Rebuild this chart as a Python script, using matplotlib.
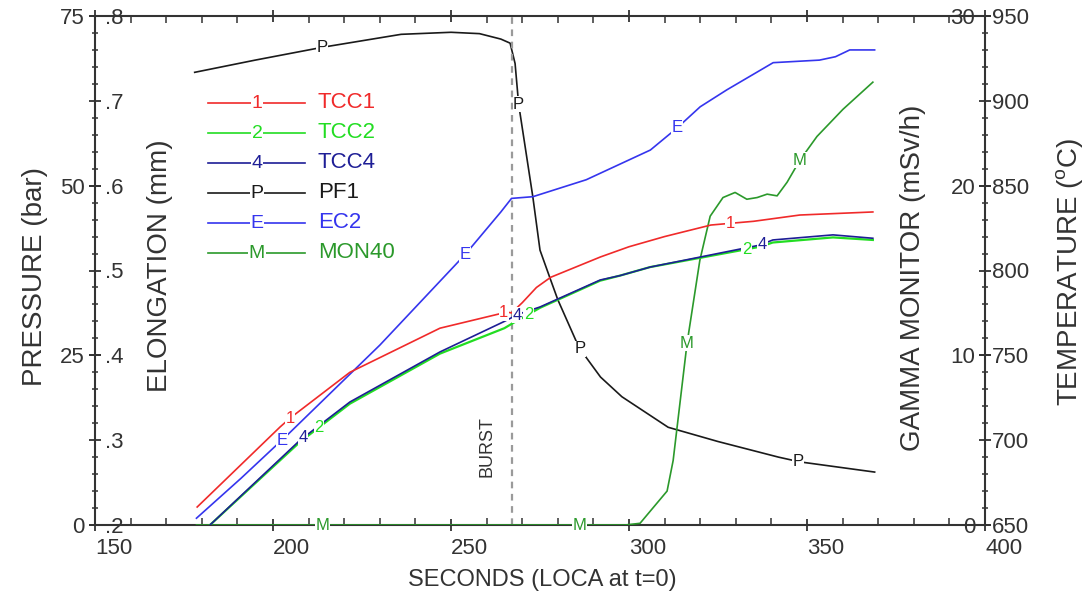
import matplotlib
matplotlib.use("Agg")
import matplotlib.pyplot as plt
import numpy as np
from matplotlib.ticker import MultipleLocator

plt.rcParams['font.family'] = ['Liberation Sans', 'DejaVu Sans']
plt.rcParams['mathtext.fontset'] = 'custom'
plt.rcParams['mathtext.rm'] = 'Liberation Sans'

# ---- data ----
burst_t = 267.0

t_pf1 = [178, 195, 214, 236, 250, 258, 264, 266.6, 268, 269, 273, 275, 278,
         280, 286, 292, 298, 311, 325, 342, 348, 369]
pf1 = [66.7, 68.5, 70.4, 72.3, 72.6, 72.4, 71.6, 71.0, 68.0, 62.0, 48.3, 40.5,
       36.1, 33.2, 26.1, 21.8, 18.9, 14.4, 12.3, 10.0, 9.3, 7.8]

t_ec2 = [178.5, 191, 204.5, 230, 254, 264, 267, 273, 288, 306, 313.5, 320,
         327.5, 340.5, 353.5, 358, 362, 369]
ec2 = [0.208, 0.255, 0.308, 0.412, 0.519, 0.569, 0.585, 0.587, 0.607, 0.642,
       0.668, 0.693, 0.713, 0.745, 0.748, 0.752, 0.760, 0.760]

t_tcc1 = [178.7, 202, 204.8, 221.6, 246.9, 265.7, 267, 270, 274, 278, 285,
          292, 300, 310, 323, 335, 348, 368.5]
tcc1 = [660.6, 707.8, 713, 740, 766, 775.5, 775, 781, 790, 796, 802, 808,
        814, 820, 826.8, 829, 832.7, 834.5]

t_tcc = [178.5, 182.3, 207.6, 221.6, 246.9, 265, 267.4, 270, 275, 291.9,
         297.5, 305.9, 336.8, 340.4, 357.3, 368.5]
tcc2 = [643, 650, 699, 721.5, 751, 766, 769, 772, 778, 794, 797, 802, 814,
        816.5, 819.5, 818]
tcc4 = [643, 650, 700, 722.5, 752, 770, 772.6, 775, 778.5, 794.4, 797, 802,
        815, 818, 821, 819]

t_mon = [178.5, 298.9, 303.1, 306.7, 310.7, 312.4, 316.3, 319.9, 322.8, 326.4,
         329.8, 333.1, 336.0, 338.8, 341.6, 344.4, 348.0, 352.8, 360.1, 368.5]
mon40 = [0, 0, 0.1, 1.0, 2.0, 3.8, 10.7, 15.6, 18.2, 19.3, 19.6, 19.2, 19.3,
         19.5, 19.4, 20.2, 21.5, 22.9, 24.5, 26.1]

# where the curve-identifying characters sit along each line
mk_tcc1 = [204.8, 264.8, 328.4]
mk_tcc2 = [213.0, 271.8, 333.0]
mk_tcc4 = [208.5, 268.6, 337.5]
mk_pf1 = [213.8, 269.0, 286.2, 347.5]
mk_ec2 = [202.5, 253.9, 313.5]
mk_mon = [214.0, 286.2, 316.3, 348.0]

INK = '#333333'
RED, GRN, NAVY, BLK, BLU, DGRN = '#f02a2a', '#22dd22', '#1e1e96', '#1a1a1a', '#3535ee', '#2b992b'

fig = plt.figure(figsize=(10.91, 6.0), dpi=100)
ax_p = fig.add_axes([95 / 1091, 75 / 600, 890 / 1091, 509 / 600])
ax_e = ax_p.twinx()
ax_g = ax_p.twinx()
ax_t = ax_p.twinx()

for a in (ax_e, ax_g, ax_t):
    for s in a.spines.values():
        s.set_visible(False)
for s in ax_p.spines.values():
    s.set_color(INK)
    s.set_linewidth(1.5)

ax_p.set_xlim(150, 400)
ax_p.set_ylim(0, 75)
ax_e.set_ylim(0.2, 0.8)
ax_g.set_ylim(0, 30)
ax_t.set_ylim(650, 950)

# lines
lw = 1.2
ax_p.plot(t_pf1, pf1, color=BLK, lw=lw)
ax_e.plot(t_ec2, ec2, color=BLU, lw=lw)
ax_g.plot(t_mon, mon40, color=DGRN, lw=lw)
ax_t.plot(t_tcc1, tcc1, color=RED, lw=lw)
ax_t.plot(t_tcc, tcc2, color=GRN, lw=1.6)
ax_t.plot(t_tcc, tcc4, color=NAVY, lw=lw)
ax_p.axvline(burst_t, color='#9a9a9a', lw=1.6, ls=(0, (3, 2.5)))
ax_p.text(burst_t - 6.8, 11.5, 'BURST', rotation=90, ha='center', va='center',
          fontsize=13, color=INK)

# curve characters
box = dict(facecolor='white', edgecolor='none', pad=0.4)
for a, tx, ty, marks, ch, col in (
        (ax_p, t_pf1, pf1, mk_pf1, 'P', BLK),
        (ax_e, t_ec2, ec2, mk_ec2, 'E', BLU),
        (ax_g, t_mon, mon40, mk_mon, 'M', DGRN),
        (ax_t, t_tcc1, tcc1, mk_tcc1, '1', RED),
        (ax_t, t_tcc, tcc2, mk_tcc2, '2', GRN),
        (ax_t, t_tcc, tcc4, mk_tcc4, '4', NAVY)):
    for m in marks:
        a.text(m, np.interp(m, tx, ty), ch, color=col, fontsize=12,
               ha='center', va='center', bbox=box, zorder=5)

# legend drawn by hand: line - char - line, then name
legend = [('1', 'TCC1', RED), ('2', 'TCC2', GRN), ('4', 'TCC4', NAVY),
          ('P', 'PF1', BLK), ('E', 'EC2', BLU), ('M', 'MON40', DGRN)]
for i, (ch, name, col) in enumerate(legend):
    yy = (525 - (103 + 30 * i)) / 509
    x0, xc, x1, xt = [(v - 95) / 890 for v in (208, 257, 305, 318)]
    ax_t.plot([x0, x1], [yy, yy], color=col, lw=lw, transform=ax_t.transAxes)
    ax_t.text(xc, yy, ch, color=col, fontsize=14, ha='center', va='center',
              bbox=box, transform=ax_t.transAxes, zorder=5)
    ax_t.text(xt, yy, name, color=col, fontsize=16, ha='left', va='center',
              transform=ax_t.transAxes)

# ---- ticks ----
ax_p.xaxis.set_major_locator(MultipleLocator(50))
ax_p.xaxis.set_minor_locator(MultipleLocator(10))
ax_p.tick_params(axis='x', which='major', top=True, bottom=True, direction='inout',
                 length=9, width=1.3, color=INK, labelsize=16, labelcolor=INK, pad=4.5)
ax_p.tick_params(axis='x', which='minor', top=True, bottom=True, direction='in',
                 length=5, width=1.1, color=INK)
plt.setp(ax_p.get_xticklabels(), ha='left')

ax_p.set_yticks([0, 25, 50, 75])
ax_p.tick_params(axis='y', which='major', left=True, right=False, direction='inout',
                 length=9, width=1.3, color=INK, labelsize=16, labelcolor=INK, pad=3)

e_ticks = [0.2, 0.3, 0.4, 0.5, 0.6, 0.7, 0.8]
ax_e.yaxis.tick_left()
ax_e.set_yticks(e_ticks)
ax_e.set_yticklabels(['.2', '.3', '.4', '.5', '.6', '.7', '.8'])
ax_e.yaxis.set_minor_locator(MultipleLocator(0.02))
ax_e.tick_params(axis='y', which='major', left=True, right=False, labelleft=True,
                 labelright=False, direction='inout', length=9, width=1.3,
                 color=INK, labelsize=16, labelcolor=INK, pad=-11.5)
ax_e.tick_params(axis='y', which='minor', left=True, right=False, direction='inout',
                 length=5, width=1.1, color=INK)
plt.setp(ax_e.get_yticklabels(), ha='left')

ax_g.set_yticks([0, 10, 20, 30])
ax_g.tick_params(axis='y', which='major', left=False, right=True, labelleft=False,
                 labelright=True, direction='inout', length=9, width=1.3,
                 color=INK, labelsize=16, labelcolor=INK, pad=-11.5)
plt.setp(ax_g.get_yticklabels(), ha='right')

ax_t.set_yticks(np.arange(650, 951, 50))
ax_t.yaxis.set_minor_locator(MultipleLocator(10))
ax_t.tick_params(axis='y', which='major', left=False, right=True, direction='inout',
                 length=9, width=1.3, color=INK, labelsize=16, labelcolor=INK, pad=0.5)
ax_t.tick_params(axis='y', which='minor', left=False, right=True, direction='inout',
                 length=5, width=1.1, color=INK)

# ---- axis titles ----
def px(x, y):
    return x / 1091, 1 - y / 600

lab = dict(fontsize=17, color=INK, ha='center', va='center')
vlab = dict(lab, fontsize=20, rotation=90)
fig.text(*px(542, 580), 'SECONDS (LOCA at t=0)', **lab)
fig.text(*px(35, 276), 'PRESSURE (bar)', **vlab)
fig.text(*px(160, 266), 'ELONGATION (mm)', **vlab)
fig.text(*px(913, 278), 'GAMMA MONITOR (mSv/h)', **vlab)
fig.text(*px(1070, 272), r'TEMPERATURE ($^{\rm o}$C)', **vlab)

fig.savefig('out.png', dpi=100, facecolor='white')
